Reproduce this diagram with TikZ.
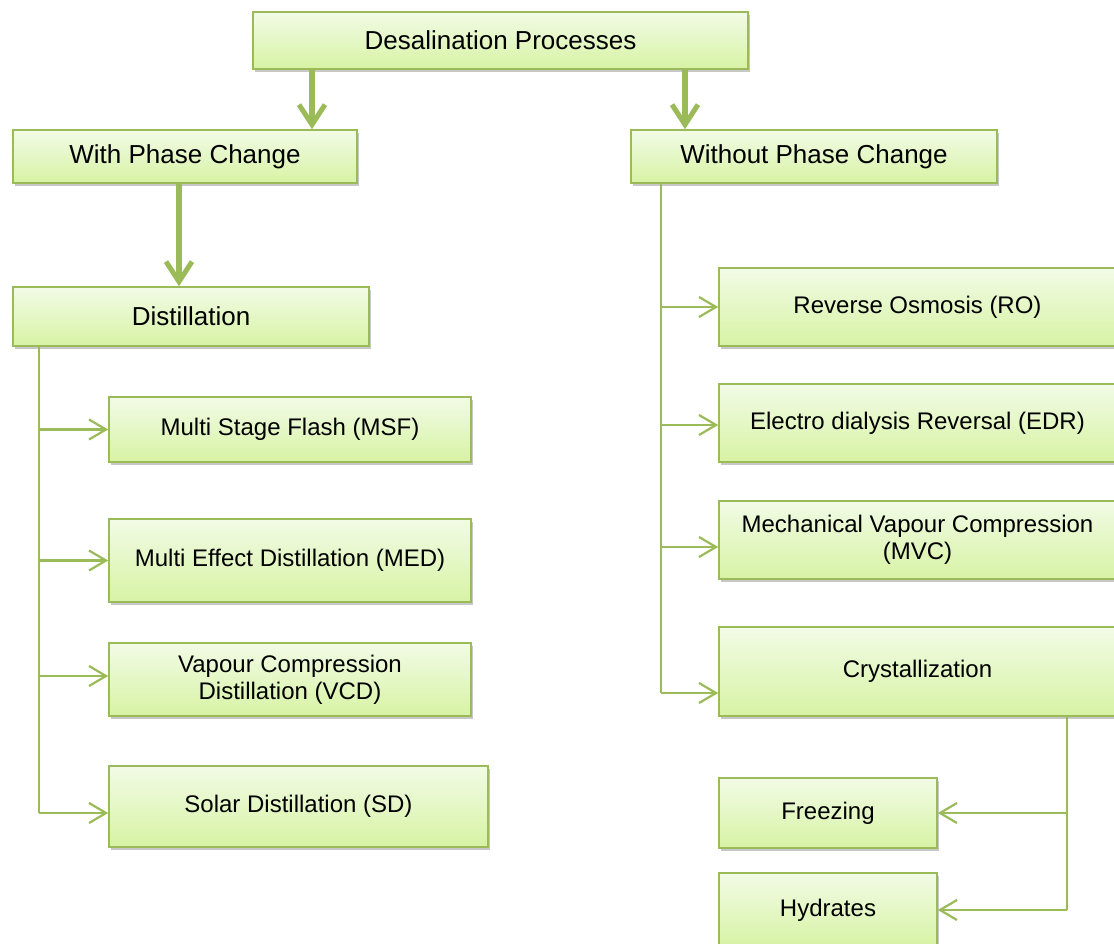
\documentclass[tikz,border=0pt]{standalone}
\usepackage{fontspec}
\setmainfont{Liberation Sans}
\usetikzlibrary{arrows.meta,calc,shadows}
\definecolor{edgeg}{HTML}{9BBB59}
\definecolor{topfill}{HTML}{F2FBE6}
\definecolor{botfill}{HTML}{D7F3A4}
\tikzset{
  box/.style={draw=edgeg, line width=1.6pt, top color=topfill, bottom color=botfill,
    inner sep=2pt, align=center, text=black, font=\fontsize{24}{27}\selectfont,
    drop shadow={shadow xshift=1.5pt, shadow yshift=-2.5pt, opacity=0.22, fill=black}},
  bigbox/.style={box, font=\fontsize{26}{29}\selectfont},
  bigarrow/.style={draw=edgeg, line width=5.5pt, -{Straight Barb[length=20pt,width=26pt,line width=5pt]}},
  branch/.style={draw=edgeg, line width=2.2pt, -{Straight Barb[length=17pt,width=20pt,line width=2.2pt]}},
  trunk/.style={draw=edgeg, line width=2.2pt}
}
\begin{document}
\begin{tikzpicture}[x=1pt,y=-1pt]
\clip (0,0) rectangle (1114,943);
\fill[white] (0,0) rectangle (1114,943);

% nodes
\node[bigbox, minimum width=495pt, minimum height=57pt] (top) at (500.5,40.5) {Desalination Processes};
\node[bigbox, minimum width=344pt, minimum height=53pt] (with) at (185,156.5) {With Phase Change};
\node[bigbox, minimum width=366pt, minimum height=53pt] (without) at (814,156.5) {Without Phase Change};
\node[bigbox, minimum width=356pt, minimum height=59pt] (dist) at (191,316.5) {Distillation};

\node[box, minimum width=362pt, minimum height=65pt] (msf) at (290,429.5) {Multi Stage Flash (MSF)};
\node[box, minimum width=362pt, minimum height=83pt] (med) at (290,560.5) {Multi Effect Distillation (MED)};
\node[box, minimum width=362pt, minimum height=73pt] (vcd) at (290,679.5) {Vapour Compression\\Distillation (VCD)};
\node[box, minimum width=379pt, minimum height=81pt] (sd) at (298.5,806.5) {Solar Distillation (SD)};

\node[box, minimum width=397pt, minimum height=78pt] (ro) at (917.5,307) {Reverse Osmosis (RO)};
\node[box, minimum width=397pt, minimum height=78pt] (edr) at (917.5,423) {Electro dialysis Reversal (EDR)};
\node[box, minimum width=397pt, minimum height=78pt] (mvc) at (917.5,540) {Mechanical Vapour Compression\\(MVC)};
\node[box, minimum width=397pt, minimum height=89pt] (cry) at (917.5,671.5) {Crystallization};
\node[box, minimum width=218pt, minimum height=70pt] (frz) at (828,813) {Freezing};
\node[box, minimum width=218pt, minimum height=74pt] (hyd) at (828,910) {Hydrates};

% thick arrows
\draw[bigarrow] (top.south -| 312,0) -- (with.north -| 312,0);
\draw[bigarrow] (top.south -| 685,0) -- (without.north -| 685,0);
\draw[bigarrow] (with.south -| 179,0) -- (dist.north -| 179,0);

% left tree
\coordinate (lt) at (39,0);
\draw[trunk] (dist.south -| lt) -- ($(sd.west -| lt)+(0,6.5)$);
\draw[branch] (msf.west -| lt) -- (msf.west);
\draw[branch] (med.west -| lt) -- (med.west);
\draw[branch] ($(vcd.west -| lt)+(0,-3.5)$) -- ($(vcd.west)+(0,-3.5)$);
\draw[branch] ($(sd.west -| lt)+(0,6.5)$) -- ($(sd.west)+(0,6.5)$);

% right tree
\coordinate (rt) at (661,0);
\draw[trunk] (without.south -| rt) -- ($(cry.west -| rt)+(0,21.5)$);
\draw[branch] (ro.west -| rt) -- (ro.west);
\draw[branch] ($(edr.west -| rt)+(0,2)$) -- ($(edr.west)+(0,2)$);
\draw[branch] ($(mvc.west -| rt)+(0,7)$) -- ($(mvc.west)+(0,7)$);
\draw[branch] ($(cry.west -| rt)+(0,21.5)$) -- ($(cry.west)+(0,21.5)$);

% crystallization tree
\coordinate (ct) at (1067,0);
\draw[trunk] (cry.south -| ct) -- (hyd.east -| ct);
\draw[branch] (frz.east -| ct) -- (frz.east);
\draw[branch] (hyd.east -| ct) -- (hyd.east);
\end{tikzpicture}
\end{document}
